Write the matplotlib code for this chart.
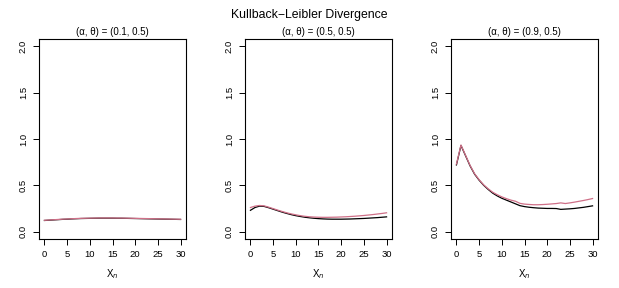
import numpy as np
import matplotlib
matplotlib.use("Agg")
import matplotlib.pyplot as plt

plt.rcParams['font.family'] = ['Liberation Sans', 'DejaVu Sans']
plt.rcParams['mathtext.fontset'] = 'dejavusans'

xn = np.arange(0, 31)

# (alpha, theta) = (0.1, 0.5)
kl1_black = [0.120, 0.123, 0.126, 0.129, 0.132, 0.134, 0.137, 0.139, 0.141, 0.142,
             0.143, 0.144, 0.145, 0.145, 0.145, 0.145, 0.144, 0.144, 0.143, 0.142,
             0.141, 0.140, 0.139, 0.138, 0.137, 0.136, 0.135, 0.134, 0.133, 0.132, 0.131]
kl1_pink = [0.122, 0.125, 0.128, 0.131, 0.134, 0.136, 0.139, 0.141, 0.143, 0.144,
            0.145, 0.146, 0.147, 0.147, 0.147, 0.147, 0.146, 0.146, 0.145, 0.144,
            0.143, 0.142, 0.141, 0.140, 0.139, 0.138, 0.137, 0.136, 0.135, 0.134, 0.133]

# (alpha, theta) = (0.5, 0.5)
kl2_black = [0.230, 0.260, 0.275, 0.272, 0.258, 0.242, 0.226, 0.210, 0.196, 0.183,
             0.172, 0.163, 0.155, 0.149, 0.144, 0.140, 0.137, 0.135, 0.134, 0.134,
             0.134, 0.135, 0.136, 0.138, 0.140, 0.142, 0.145, 0.148, 0.151, 0.155, 0.159]
kl2_pink = [0.260, 0.275, 0.282, 0.278, 0.264, 0.248, 0.232, 0.217, 0.203, 0.191,
            0.181, 0.172, 0.165, 0.160, 0.157, 0.155, 0.154, 0.154, 0.155, 0.156,
            0.158, 0.160, 0.163, 0.166, 0.170, 0.174, 0.179, 0.184, 0.190, 0.196, 0.203]

# (alpha, theta) = (0.9, 0.5)
kl3_black = [0.720, 0.930, 0.820, 0.710, 0.620, 0.555, 0.500, 0.455, 0.415, 0.385,
             0.360, 0.340, 0.320, 0.300, 0.280, 0.270, 0.263, 0.258, 0.254, 0.252,
             0.250, 0.250, 0.249, 0.240, 0.243, 0.246, 0.250, 0.256, 0.262, 0.270, 0.278]
kl3_pink = [0.730, 0.935, 0.825, 0.715, 0.625, 0.560, 0.505, 0.462, 0.425, 0.398,
            0.375, 0.356, 0.340, 0.328, 0.305, 0.297, 0.293, 0.290, 0.290, 0.292,
            0.295, 0.299, 0.303, 0.310, 0.303, 0.310, 0.318, 0.327, 0.336, 0.346, 0.357]

titles = ['(\u03b1, \u03b8) = (0.1, 0.5)',
          '(\u03b1, \u03b8) = (0.5, 0.5)',
          '(\u03b1, \u03b8) = (0.9, 0.5)']
series = [(kl1_black, kl1_pink), (kl2_black, kl2_pink), (kl3_black, kl3_pink)]
lefts = [39, 245, 451]

fig = plt.figure(figsize=(6.19, 2.88), dpi=100)
fig.text(0.5, 1 - 15 / 288, 'Kullback\u2212Leibler Divergence', ha='center', va='center', fontsize=8.8)

for i in range(3):
    ax = fig.add_axes([lefts[i] / 619, 1 - 239 / 288, 147 / 619, 200 / 288])
    blk, pnk = series[i]
    ax.plot(xn, blk, color='black', lw=0.9)
    ax.plot(xn, pnk, color='#CF7088', lw=0.9)
    ax.set_xlim(-1.2, 31.2)
    ax.set_ylim(-0.08, 2.08)
    ax.set_xticks([0, 5, 10, 15, 20, 25, 30])
    ax.set_yticks([0.0, 0.5, 1.0, 1.5, 2.0])
    ax.set_yticklabels(['0.0', '0.5', '1.0', '1.5', '2.0'], rotation=90, va='center')
    ax.tick_params(labelsize=6.8, length=4, width=0.7, pad=4)
    for s in ax.spines.values():
        s.set_linewidth(0.8)
    ax.set_title(titles[i], fontsize=7, pad=3)
    ax.set_xlabel(r'X$_n$', fontsize=7, labelpad=6)

plt.savefig('out.png', dpi=100)
